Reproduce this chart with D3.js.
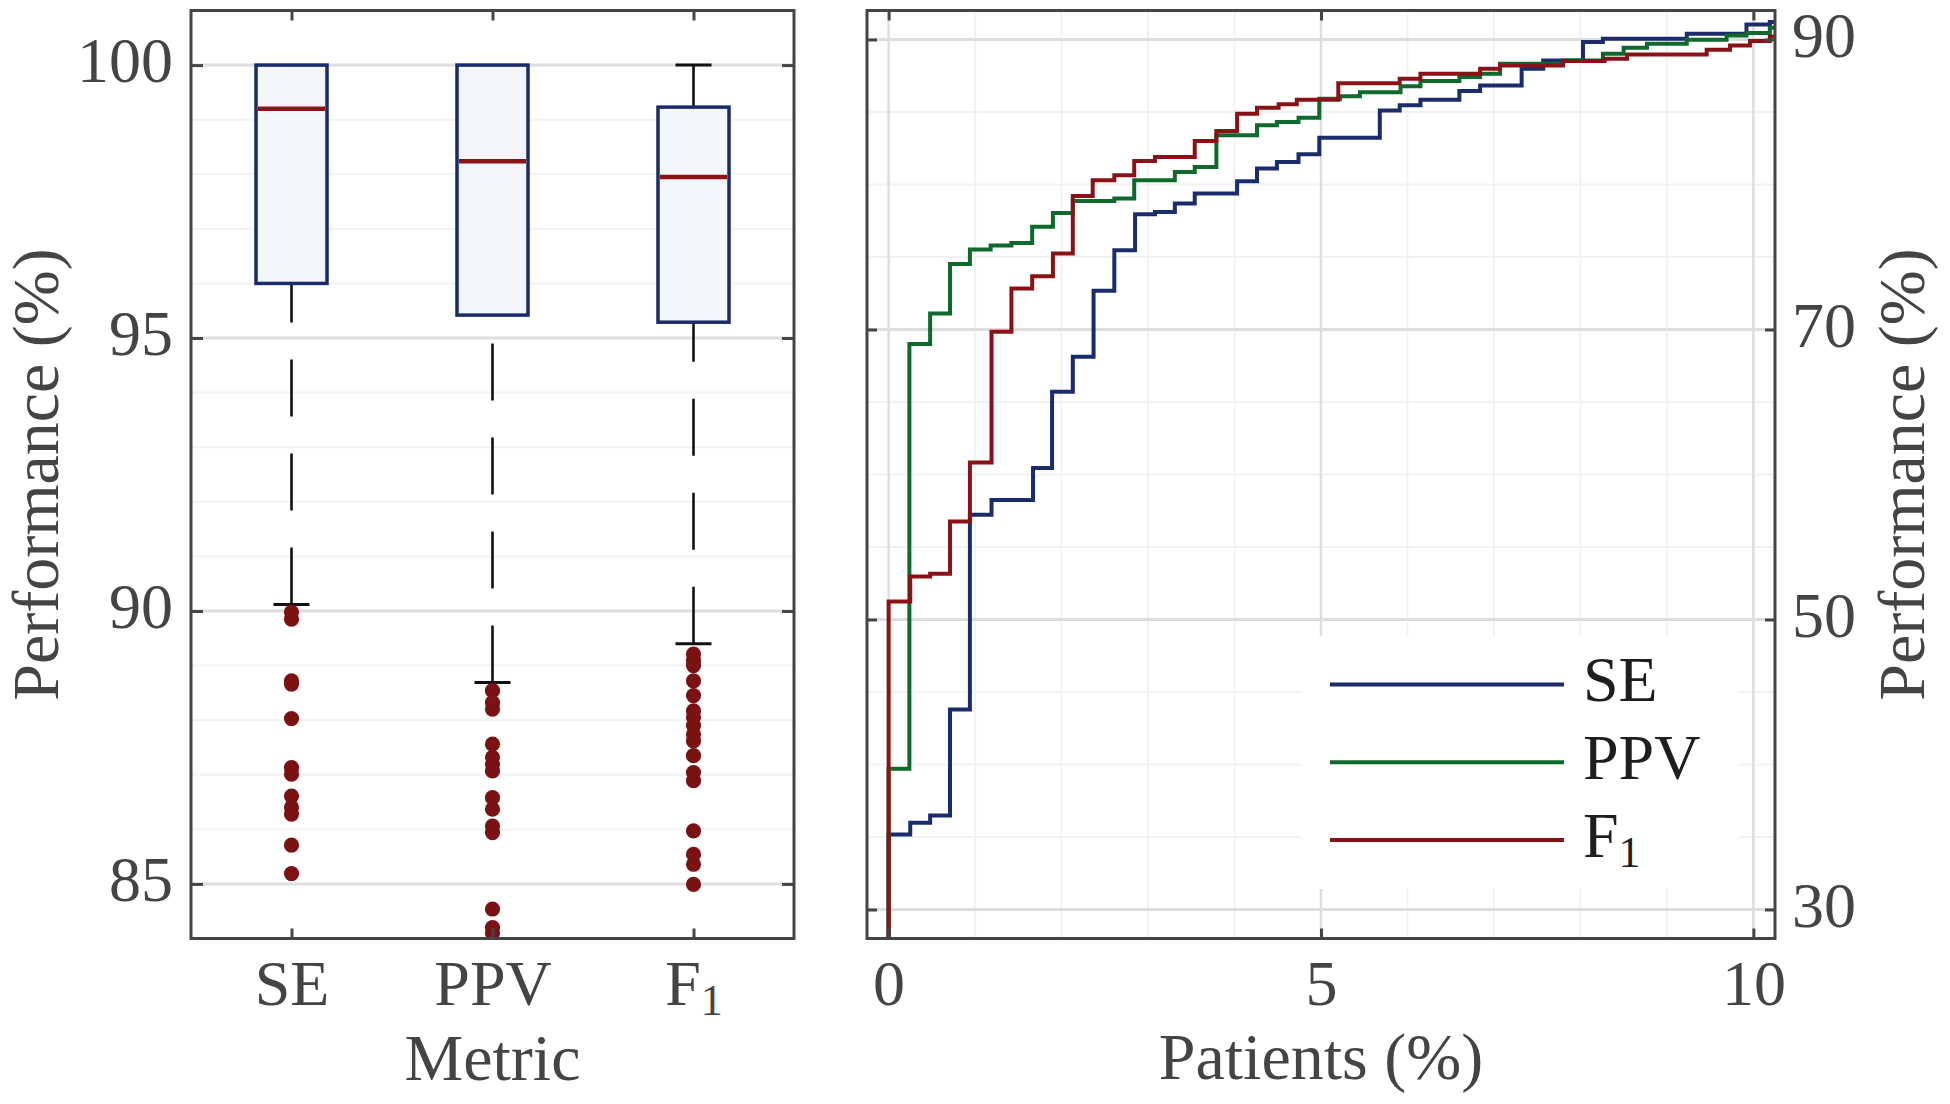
<!DOCTYPE html>
<html>
<head>
<meta charset="utf-8">
<script src="https://cdn.jsdelivr.net/npm/d3@7"></script>
<style>
  body { margin: 0; background: #ffffff; }
  svg { display: block; }
</style>
</head>
<body>
<svg id="chart" width="1950" height="1104"></svg>
<script>
// ---------------- DATA ----------------
// Left panel: box plots per metric
const categories = ["SE", "PPV", "F1"];
const boxQ1 = [96.00, 95.42, 95.29];
const boxMedian = [99.20, 98.24, 97.95];
const boxQ3 = [100.00, 100.00, 99.23];
const whiskerLow = [90.12, 88.69, 89.40];
const whiskerHigh = [100.00, 100.00, 100.00];
const outliersSE = [89.98, 89.85, 88.72, 88.66, 88.03, 87.13, 87.01, 86.61, 86.40, 86.28, 85.71, 85.19];
const outliersPPV = [88.54, 88.32, 88.20, 87.56, 87.32, 87.19, 87.07, 86.58, 86.37, 86.06, 85.94, 84.54, 84.20, 84.10];
const outliersF1 = [89.21, 89.09, 89.00, 88.72, 88.45, 88.17, 88.05, 87.90, 87.74, 87.62, 87.35, 87.04, 86.89, 85.97, 85.54, 85.36, 84.99];
const leftYTicks = [85, 90, 95, 100];
const leftYMinor = [86, 87, 88, 89, 91, 92, 93, 94, 96, 97, 98, 99];

// Right panel: performance vs. share of patients (step curves)
const patientsSE = [0, 0, 0.25, 0.48, 0.71, 0.94, 1.19, 1.67, 1.89, 2.13, 2.37, 2.61, 2.85, 3.08, 3.31, 3.54, 4.03, 4.26, 4.49, 4.74, 4.98, 5.68, 5.91, 6.15, 6.60, 6.84, 7.32, 7.57, 8.03, 8.26, 9.23, 9.92, 10.19, 10.25];
const perfSE     = [0, 35.18, 35.99, 36.49, 43.79, 57.22, 58.25, 60.44, 65.71, 68.12, 72.67, 75.47, 77.95, 78.11, 78.69, 79.38, 80.22, 81.10, 81.55, 82.08, 83.23, 85.11, 85.46, 85.85, 86.44, 86.83, 87.98, 88.56, 89.82, 90.05, 90.39, 91.04, 91.20, 91.20];
const patientsPPV = [0, 0, 0.24, 0.48, 0.71, 0.94, 1.18, 1.42, 1.66, 1.90, 2.13, 2.61, 2.84, 3.31, 3.54, 3.79, 4.26, 4.49, 4.74, 4.98, 5.22, 5.45, 5.92, 6.15, 6.60, 6.84, 7.07, 7.80, 8.26, 8.50, 8.77, 9.23, 9.69, 9.92, 10.19, 10.25];
const perfPPV     = [0, 39.71, 69.00, 71.11, 74.51, 75.52, 75.79, 75.97, 77.08, 78.04, 78.87, 79.03, 80.29, 80.86, 81.21, 83.39, 84.08, 84.31, 84.60, 85.92, 86.08, 86.37, 86.77, 87.13, 87.41, 87.64, 88.33, 88.55, 89.02, 89.43, 89.70, 89.98, 90.28, 90.44, 90.81, 90.81];
const patientsF1 = [0, 0, 0.25, 0.48, 0.71, 0.94, 1.19, 1.42, 1.66, 1.90, 2.13, 2.36, 2.61, 2.84, 3.08, 3.54, 3.79, 4.03, 4.26, 4.51, 4.72, 5.20, 5.91, 6.15, 6.84, 7.07, 7.80, 8.28, 8.54, 9.46, 9.73, 9.96, 10.19, 10.25];
const perfF1     = [0, 51.25, 52.97, 53.16, 56.76, 60.82, 69.84, 72.83, 73.68, 75.24, 79.21, 80.29, 80.64, 81.62, 81.90, 83.00, 83.69, 84.88, 85.29, 85.53, 85.85, 86.99, 87.30, 87.64, 87.98, 88.21, 88.51, 88.67, 88.97, 89.29, 89.59, 89.89, 90.21, 90.21];
const rightXTicks = [0, 5, 10];
const rightXMinor = [1, 2, 3, 4, 6, 7, 8, 9];
const rightYTicks = [30, 50, 70, 90];
const rightYMinor = [35, 40, 45, 55, 60, 65, 75, 80, 85];
const seriesNames = ["SE", "PPV", "F1"];
const seriesColors = ["#1b2c6c", "#0d6a2c", "#8a1216"];

// ---------------- STYLE ----------------
const FONT = '"Liberation Serif", "Times New Roman", serif';
const axisColor = "#444444";
const textColor = "#444444";
const tickFS = 64, labelFS = 66;
const majorGrid = "#dedede", minorGrid = "#f1f2f2";

const svg = d3.select("#chart");
const defs = svg.append("defs");

const L = { x0: 191, x1: 794, y0: 10.5, y1: 938.5 };
const R = { x0: 867, x1: 1775, y0: 10.5, y1: 938.5 };

function labelWithSub(sel, name, subSize, subDy) {
  sel.text(null);
  if (name === "F1") {
    sel.append("tspan").text("F");
    sel.append("tspan").text("1").attr("font-size", subSize).attr("dy", subDy);
  } else {
    sel.text(name);
  }
}
function styleAxis(g) {
  g.attr("font-family", FONT).attr("font-size", tickFS);
  g.select(".domain").remove();
  g.selectAll(".tick line").attr("stroke", axisColor).attr("stroke-width", 3);
  g.selectAll(".tick text").attr("fill", textColor);
}

// ================= LEFT PANEL =================
const xL = d3.scaleLinear().domain([0.5, 3.5]).range([L.x0, L.x1]);
const yL = d3.scaleLinear().domain([84, 101]).range([L.y1, L.y0]);

defs.append("clipPath").attr("id", "clipL").append("rect")
  .attr("x", L.x0).attr("y", L.y0).attr("width", L.x1 - L.x0).attr("height", L.y1 - L.y0);

const gL = svg.append("g");
// grid
gL.selectAll("line.minor").data(leftYMinor).join("line")
  .attr("x1", L.x0).attr("x2", L.x1).attr("y1", d => yL(d)).attr("y2", d => yL(d))
  .attr("stroke", minorGrid).attr("stroke-width", 2);
gL.selectAll("line.major").data(leftYTicks).join("line")
  .attr("x1", L.x0).attr("x2", L.x1).attr("y1", d => yL(d)).attr("y2", d => yL(d))
  .attr("stroke", majorGrid).attr("stroke-width", 3);

const plotL = gL.append("g").attr("clip-path", "url(#clipL)");
const boxHalf = 35.5, capHalf = 18;
categories.forEach((c, i) => {
  const cx = xL(i + 1);
  // lower whisker (dashed, from cap to box)
  plotL.append("line").attr("x1", cx).attr("x2", cx)
    .attr("y1", yL(whiskerLow[i])).attr("y2", yL(boxQ1[i]))
    .attr("stroke", "#111").attr("stroke-width", 2.6).attr("stroke-dasharray", "57 37");
  plotL.append("line").attr("x1", cx - capHalf).attr("x2", cx + capHalf)
    .attr("y1", yL(whiskerLow[i])).attr("y2", yL(whiskerLow[i]))
    .attr("stroke", "#111").attr("stroke-width", 3);
  if (whiskerHigh[i] > boxQ3[i]) {
    plotL.append("line").attr("x1", cx).attr("x2", cx)
      .attr("y1", yL(whiskerHigh[i])).attr("y2", yL(boxQ3[i]))
      .attr("stroke", "#111").attr("stroke-width", 2.6).attr("stroke-dasharray", "57 37");
    plotL.append("line").attr("x1", cx - capHalf).attr("x2", cx + capHalf)
      .attr("y1", yL(whiskerHigh[i])).attr("y2", yL(whiskerHigh[i]))
      .attr("stroke", "#111").attr("stroke-width", 3);
  }
  // box
  plotL.append("rect").attr("x", cx - boxHalf).attr("width", 2 * boxHalf)
    .attr("y", yL(boxQ3[i])).attr("height", yL(boxQ1[i]) - yL(boxQ3[i]))
    .attr("fill", "#f3f6fb").attr("stroke", "#1b2a6a").attr("stroke-width", 3.5);
  // median
  plotL.append("line").attr("x1", cx - boxHalf + 2).attr("x2", cx + boxHalf - 2)
    .attr("y1", yL(boxMedian[i])).attr("y2", yL(boxMedian[i]))
    .attr("stroke", "#8b1417").attr("stroke-width", 4.5);
});
const outlierSets = [outliersSE, outliersPPV, outliersF1];
outlierSets.forEach((arr, i) => {
  plotL.selectAll(null).data(arr).join("circle")
    .attr("cx", xL(i + 1)).attr("cy", d => yL(d)).attr("r", 7.6)
    .attr("fill", "#7a1214");
});

// axes (ticks inside, both sides)
const axL = gL.append("g").attr("transform", `translate(${L.x0},0)`)
  .call(d3.axisLeft(yL).tickValues(leftYTicks).tickSize(-12).tickSizeOuter(0).tickPadding(18));
styleAxis(axL);
axL.selectAll(".tick text").attr("dy", null).attr("y", 16.5);
const axLr = gL.append("g").attr("transform", `translate(${L.x1},0)`)
  .call(d3.axisRight(yL).tickValues(leftYTicks).tickSize(-12).tickSizeOuter(0).tickFormat(""));
styleAxis(axLr);
const axLb = gL.append("g").attr("transform", `translate(0,${L.y1})`)
  .call(d3.axisBottom(xL).tickValues([1, 2, 3]).tickSize(-10).tickSizeOuter(0)
    .tickFormat(d => categories[d - 1]));
styleAxis(axLb);
axLb.selectAll(".tick text").attr("dy", null).attr("y", 66)
  .each(function (d) { labelWithSub(d3.select(this), categories[d - 1], 44, 10); });
const axLt = gL.append("g").attr("transform", `translate(0,${L.y0})`)
  .call(d3.axisTop(xL).tickValues([1, 2, 3]).tickSize(-10).tickSizeOuter(0).tickFormat(""));
styleAxis(axLt);
gL.append("rect").attr("x", L.x0).attr("y", L.y0).attr("width", L.x1 - L.x0).attr("height", L.y1 - L.y0)
  .attr("fill", "none").attr("stroke", axisColor).attr("stroke-width", 3);

gL.append("text").attr("x", (L.x0 + L.x1) / 2).attr("y", 1080)
  .attr("text-anchor", "middle").attr("font-family", FONT).attr("font-size", labelFS)
  .attr("fill", textColor).text("Metric");
gL.append("text").attr("transform", `translate(58,${(L.y0 + L.y1) / 2}) rotate(-90)`)
  .attr("text-anchor", "middle").attr("font-family", FONT).attr("font-size", labelFS)
  .attr("fill", textColor).text("Performance (%)");

// ================= RIGHT PANEL =================
const xR = d3.scaleLinear().domain([-0.25, 10.25]).range([R.x0, R.x1]);
const yR = d3.scaleLinear().domain([28, 92]).range([R.y1, R.y0]);

defs.append("clipPath").attr("id", "clipR").append("rect")
  .attr("x", R.x0).attr("y", R.y0).attr("width", R.x1 - R.x0).attr("height", R.y1 - R.y0);

const gR = svg.append("g");
gR.selectAll("line.vminor").data(rightXMinor).join("line")
  .attr("x1", d => xR(d)).attr("x2", d => xR(d)).attr("y1", R.y0).attr("y2", R.y1)
  .attr("stroke", minorGrid).attr("stroke-width", 2);
gR.selectAll("line.hminor").data(rightYMinor).join("line")
  .attr("x1", R.x0).attr("x2", R.x1).attr("y1", d => yR(d)).attr("y2", d => yR(d))
  .attr("stroke", minorGrid).attr("stroke-width", 2);
gR.selectAll("line.vmajor").data(rightXTicks).join("line")
  .attr("x1", d => xR(d)).attr("x2", d => xR(d)).attr("y1", R.y0).attr("y2", R.y1)
  .attr("stroke", majorGrid).attr("stroke-width", 2.5);
gR.selectAll("line.hmajor").data(rightYTicks).join("line")
  .attr("x1", R.x0).attr("x2", R.x1).attr("y1", d => yR(d)).attr("y2", d => yR(d))
  .attr("stroke", majorGrid).attr("stroke-width", 3);

const plotR = gR.append("g").attr("clip-path", "url(#clipR)");
const stepLine = d3.line().x(d => xR(d[0])).y(d => yR(d[1])).curve(d3.curveStepAfter);
const seriesX = [patientsSE, patientsPPV, patientsF1];
const seriesY = [perfSE, perfPPV, perfF1];
seriesNames.forEach((n, i) => {
  const pts = seriesX[i].map((x, k) => [x, seriesY[i][k]]);
  plotR.append("path").datum(pts).attr("d", stepLine)
    .attr("fill", "none").attr("stroke", seriesColors[i]).attr("stroke-width", 4)
    .attr("stroke-linejoin", "miter");
});

// legend
const legY = [684.6, 762.3, 840];
const legG = gR.append("g");
legG.append("rect").attr("x", 1301).attr("y", 636).attr("width", 438).attr("height", 253).attr("fill", "#ffffff");
seriesNames.forEach((n, i) => {
  legG.append("line").attr("x1", 1330).attr("x2", 1564).attr("y1", legY[i]).attr("y2", legY[i])
    .attr("stroke", seriesColors[i]).attr("stroke-width", 4);
  const t = legG.append("text").attr("x", 1583).attr("y", legY[i] + 16.5)
    .attr("font-family", FONT).attr("font-size", tickFS).attr("fill", "#1e1e1e");
  labelWithSub(t, n, 44, 10);
});

const axRl = gR.append("g").attr("transform", `translate(${R.x0},0)`)
  .call(d3.axisLeft(yR).tickValues(rightYTicks).tickSize(-10).tickSizeOuter(0).tickFormat(""));
styleAxis(axRl);
const axRr = gR.append("g").attr("transform", `translate(${R.x1},0)`)
  .call(d3.axisRight(yR).tickValues(rightYTicks).tickSize(-10).tickSizeOuter(0).tickPadding(17));
styleAxis(axRr);
axRr.selectAll(".tick text").attr("dy", null).attr("y", 16.5);
const axRb = gR.append("g").attr("transform", `translate(0,${R.y1})`)
  .call(d3.axisBottom(xR).tickValues(rightXTicks).tickSize(-10).tickSizeOuter(0));
styleAxis(axRb);
axRb.selectAll(".tick text").attr("dy", null).attr("y", 66);
const axRt = gR.append("g").attr("transform", `translate(0,${R.y0})`)
  .call(d3.axisTop(xR).tickValues(rightXTicks).tickSize(-10).tickSizeOuter(0).tickFormat(""));
styleAxis(axRt);
gR.append("rect").attr("x", R.x0).attr("y", R.y0).attr("width", R.x1 - R.x0).attr("height", R.y1 - R.y0)
  .attr("fill", "none").attr("stroke", axisColor).attr("stroke-width", 3);

gR.append("text").attr("x", (R.x0 + R.x1) / 2).attr("y", 1079)
  .attr("text-anchor", "middle").attr("font-family", FONT).attr("font-size", labelFS)
  .attr("fill", textColor).text("Patients (%)");
gR.append("text").attr("transform", `translate(1924,${(R.y0 + R.y1) / 2}) rotate(-90)`)
  .attr("text-anchor", "middle").attr("font-family", FONT).attr("font-size", labelFS)
  .attr("fill", textColor).text("Performance (%)");
</script>
</body>
</html>
